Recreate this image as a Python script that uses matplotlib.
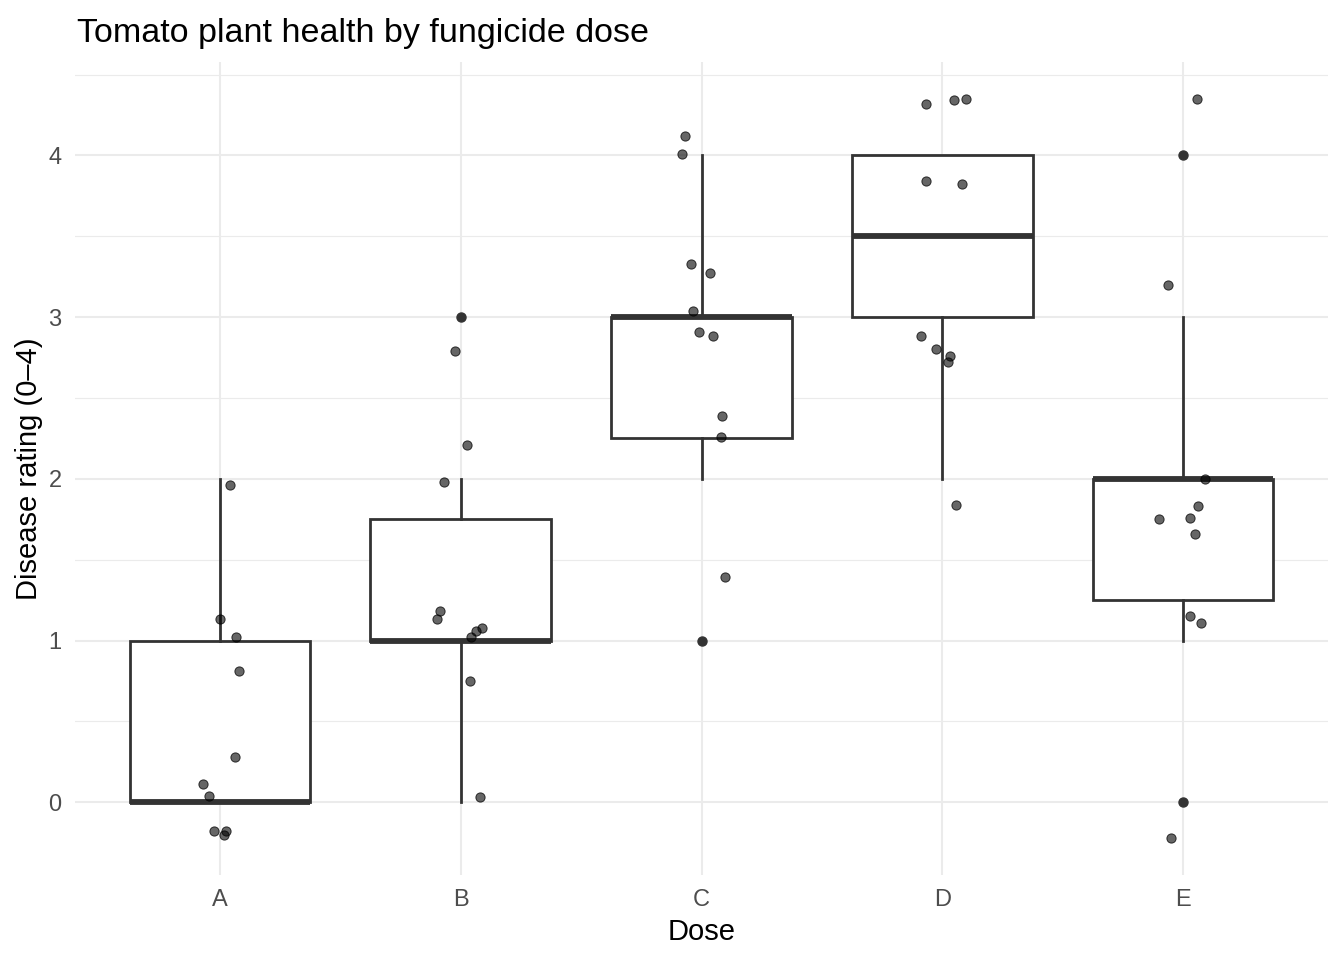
import matplotlib.pyplot as plt
import numpy as np

plt.rcParams['font.family'] = ['Liberation Sans', 'DejaVu Sans']

doses = ['A', 'B', 'C', 'D', 'E']

# raw integer ratings (used for the boxes)
rating_a = [2, 1, 1, 1, 0, 0, 0, 0, 0, 0]
rating_b = [3, 2, 2, 1, 1, 1, 1, 1, 1, 0]
rating_c = [4, 4, 3, 3, 3, 3, 3, 2, 2, 1]
rating_d = [4, 4, 4, 4, 4, 3, 3, 3, 3, 2]
rating_e = [4, 3, 2, 2, 2, 2, 2, 1, 1, 0]

# jittered points
pts_y_a = [1.96, 1.13, 1.02, 0.81, 0.28, 0.11, 0.04, -0.18, -0.18, -0.20]
pts_dx_a = [0.041, 0.0, 0.069, 0.079, 0.061, -0.072, -0.044, -0.026, 0.025, 0.017]
pts_y_b = [2.79, 2.21, 1.98, 1.18, 1.13, 1.08, 1.06, 1.02, 0.75, 0.03]
pts_dx_b = [-0.025, 0.028, -0.071, -0.088, -0.097, 0.090, 0.065, 0.044, 0.037, 0.079]
pts_y_c = [4.12, 4.01, 3.33, 3.27, 3.04, 2.91, 2.88, 2.39, 2.26, 1.39]
pts_dx_c = [-0.069, -0.082, -0.043, 0.034, -0.034, -0.009, 0.047, 0.086, 0.082, 0.099]
pts_y_d = [4.32, 4.34, 4.35, 3.84, 3.82, 2.88, 2.80, 2.76, 2.72, 1.84]
pts_dx_d = [-0.069, 0.047, 0.100, -0.069, 0.083, -0.087, -0.025, 0.030, 0.025, 0.058]
pts_y_e = [4.35, 3.20, 2.00, 1.83, 1.75, 1.76, 1.66, 1.15, 1.11, -0.22]
pts_dx_e = [0.057, -0.064, 0.090, 0.062, -0.101, 0.029, 0.048, 0.029, 0.075, -0.050]

ratings = [rating_a, rating_b, rating_c, rating_d, rating_e]
pts_y = [pts_y_a, pts_y_b, pts_y_c, pts_y_d, pts_y_e]
pts_dx = [pts_dx_a, pts_dx_b, pts_dx_c, pts_dx_d, pts_dx_e]

fig = plt.figure(figsize=(13.44, 9.6), dpi=100)
ax = fig.add_axes([0.0561, 0.0888, 0.9317, 0.8468])

dark = '#333333'
ax.boxplot(ratings, positions=range(len(doses)), widths=0.75, whis=1.5,
           showcaps=False, patch_artist=True,
           boxprops=dict(facecolor='white', edgecolor=dark, linewidth=2.0),
           medianprops=dict(color=dark, linewidth=4.2, solid_capstyle='butt'),
           whiskerprops=dict(color=dark, linewidth=2.0),
           flierprops=dict(marker='o', markerfacecolor=dark, markeredgecolor=dark,
                           markersize=6.5),
           zorder=2)

for i in range(len(doses)):
    xs = [i + d for d in pts_dx[i]]
    ax.scatter(xs, pts_y[i], s=44, facecolors=(0, 0, 0, 0.6),
               edgecolors=(0, 0, 0, 0.75), linewidths=0.7, zorder=3)

allpts = np.concatenate([np.array(p) for p in pts_y])
lo, hi = allpts.min(), allpts.max()
pad = 0.05 * (hi - lo)
ax.set_ylim(lo - pad, hi + pad)
ax.set_xlim(-0.6, len(doses) - 0.4)

ax.set_yticks([0, 1, 2, 3, 4])
ax.set_yticks([0.5, 1.5, 2.5, 3.5, 4.5], minor=True)
ax.set_xticks(range(len(doses)))
ax.set_xticklabels(doses)
ax.grid(which='major', color='#EBEBEB', linewidth=1.5, zorder=0)
ax.grid(which='minor', axis='y', color='#EBEBEB', linewidth=0.8, zorder=0)
ax.set_axisbelow(True)
for s in ax.spines.values():
    s.set_visible(False)
ax.tick_params(which='both', length=0)
ax.tick_params(axis='y', pad=10, labelsize=17, labelcolor='#4D4D4D')
ax.tick_params(axis='x', pad=10, labelsize=17, labelcolor='#4D4D4D')

ax.set_xlabel('Dose', fontsize=21, labelpad=5)
ax.set_ylabel('Disease rating (0\u20134)', fontsize=21, labelpad=4)
fig.text(77 / 1344, 1 - 42 / 960, 'Tomato plant health by fungicide dose',
         fontsize=24.5, ha='left', va='baseline')

fig.savefig('out.png', dpi=100)
